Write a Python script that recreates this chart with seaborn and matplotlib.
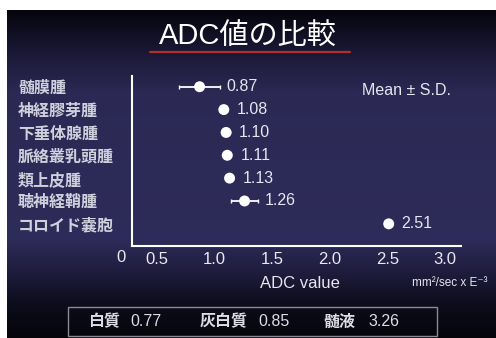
import numpy as np
import matplotlib
matplotlib.use("Agg")
import matplotlib.pyplot as plt
import seaborn as sns
import pandas as pd
from matplotlib.patches import Rectangle
from matplotlib.lines import Line2D

# ---- data ----
categories = ["髄膜腫", "神経膠芽腫", "下垂体腺腫", "脈絡叢乳頭腫", "類上皮腫", "聴神経鞘腫", "コロイド嚢胞"]
means = [0.87, 1.08, 1.10, 1.11, 1.13, 1.26, 2.51]
sds = [0.18, 0.03, 0.03, 0.03, 0.03, 0.12, 0.03]
value_labels = ["0.87", "1.08", "1.10", "1.11", "1.13", "1.26", "2.51"]
x_ticks = [0.5, 1.0, 1.5, 2.0, 2.5, 3.0]
x_tick_labels = ["0.5", "1.0", "1.5", "2.0", "2.5", "3.0"]
ref_names = ["白質", "灰白質", "髄液"]
ref_values = ["0.77", "0.85", "3.26"]

sns.set_theme(style="white")
plt.rcParams["font.family"] = ["Liberation Sans", "Noto Sans CJK JP", "DejaVu Sans"]

W, H = 496, 338
fig = plt.figure(figsize=(W / 100, H / 100), dpi=100)
fig.patch.set_facecolor("white")

# background gradient (slide)
bg = fig.add_axes([7 / W, 0, 1 - 7 / W, 328 / H])
stops = np.array([0.0, 0.12, 0.25, 0.70, 0.80, 0.90, 1.0])
cols = np.array([
    [0.02, 0.02, 0.05],
    [0.10, 0.09, 0.20],
    [0.17, 0.16, 0.33],
    [0.18, 0.17, 0.35],
    [0.12, 0.11, 0.24],
    [0.05, 0.05, 0.11],
    [0.02, 0.02, 0.04],
])
t = np.linspace(0, 1, 400)
grad = np.stack([np.interp(t, stops, cols[:, c]) for c in range(3)], axis=-1)[:, None, :]
bg.imshow(grad, aspect="auto", extent=[0, 1, 0, 1], origin="upper")
bg.set_axis_off()

# main axes
ax = fig.add_axes([132 / W, 1 - 246 / H, (461 - 132) / W, (246 - 76) / H])
ax.patch.set_alpha(0)

pos = np.arange(len(categories))
df = pd.DataFrame({"category": categories, "pos": pos, "mean": means, "sd": sds})

ax.errorbar(df["mean"], df["pos"], xerr=df["sd"], fmt="none", ecolor="white",
            elinewidth=1.3, capsize=1.5, capthick=1.0, zorder=2)
sns.scatterplot(data=df, x="mean", y="pos", ax=ax, color="white", s=62,
                edgecolor="none", zorder=3, legend=False)

for m, s, lab, p in zip(means, sds, value_labels, pos):
    off = max(s * 115 + 6, 13)
    ax.annotate(lab, (m, p), xytext=(off, 0), textcoords="offset pixels",
                ha="left", va="center", color="#e6e6ee", fontsize=11.5)

ax.set_xlim(0.284, 3.137)
ax.set_ylim(6.97, -0.47)
ax.set_xticks(x_ticks)
ax.set_xticklabels(x_tick_labels, color="#e8e8ee", fontsize=12)
ax.set_yticks(pos)
ax.set_yticklabels(categories, ha="left", color="#d0d0dc", fontsize=11.5, fontweight="semibold")
ax.tick_params(axis="y", length=0, pad=82)
ax.tick_params(axis="x", length=2, width=1, color="white", pad=4, direction="in")
ax.set_xlabel("")
ax.set_ylabel("")
for sp in ["top", "right"]:
    ax.spines[sp].set_visible(False)
for sp in ["left", "bottom"]:
    ax.spines[sp].set_color("white")
    ax.spines[sp].set_linewidth(1.5)

fig.text(121 / W, 1 - 258 / H, "0", ha="center", va="center", color="#e8e8ee", fontsize=12)
fig.text(406 / W, 1 - 91 / H, "Mean ± S.D.", ha="center", va="center",
         color="#e6e6ee", fontsize=11.5)

fig.text(300 / W, 1 - 284 / H, "ADC value", ha="center", va="center", color="#e6e6ee", fontsize=12)
fig.text(450 / W, 1 - 283 / H, "mm²/sec x E⁻³", ha="center", va="center", color="#e6e6ee", fontsize=8.5)

# title
fig.text(0.5, 1 - 36 / H, "ADC値の比較", ha="center", va="center", color="white", fontsize=21)
fig.add_artist(Line2D([150 / W, 350 / W], [1 - 52 / H, 1 - 52 / H], color="#b0302e", lw=1.6))

# reference box
fig.add_artist(Rectangle((68 / W, 1 - 336 / H), (437 - 68) / W, 29 / H, fill=False,
                         edgecolor="#8a8a96", lw=1.0))
name_x = [88, 200, 323]
val_x = [130, 258, 368]
for nx, vx, n, v in zip(name_x, val_x, ref_names, ref_values):
    fig.text(nx / W, 1 - 322 / H, n, ha="left", va="center", color="#dcdce4",
             fontsize=11.5, fontweight="bold")
    fig.text(vx / W, 1 - 322 / H, v, ha="left", va="center", color="#dcdce4",
             fontsize=11.5)

fig.savefig("out.png", dpi=100)
